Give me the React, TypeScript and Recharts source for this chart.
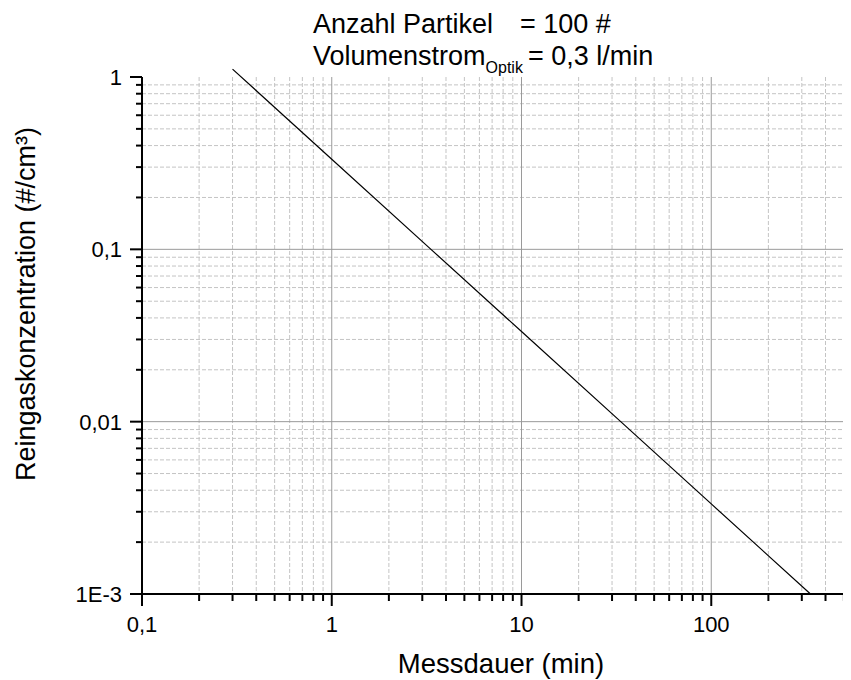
import { CartesianGrid, Line, LineChart, XAxis, YAxis } from "recharts";

// Messdauer (min) vs. Reingaskonzentration (#/cm³), 100 Partikel bei 0,3 l/min
const durations = [0.3, 1, 3.333, 10, 33.33, 100, 333.3];
const concentrations = [1.111, 0.3333, 0.1, 0.03333, 0.01, 0.003333, 0.001];

const xMajorTicks = [0.1, 1, 10, 100];
const xTickLabels = ["0,1", "1", "10", "100"];
const xMinorTicks = [
  0.2, 0.3, 0.4, 0.5, 0.6, 0.7, 0.8, 0.9,
  2, 3, 4, 5, 6, 7, 8, 9,
  20, 30, 40, 50, 60, 70, 80, 90,
  200, 300, 400, 500,
];

const yMajorTicks = [0.001, 0.01, 0.1, 1];
const yTickLabels = ["1E-3", "0,01", "0,1", "1"];
const yMinorTicks = [
  0.002, 0.003, 0.004, 0.005, 0.006, 0.007, 0.008, 0.009,
  0.02, 0.03, 0.04, 0.05, 0.06, 0.07, 0.08, 0.09,
  0.2, 0.3, 0.4, 0.5, 0.6, 0.7, 0.8, 0.9,
];

const data = durations.map((t, i) => ({ t, c: concentrations[i] }));

const font = "'Liberation Sans', Arial, Helvetica, sans-serif";

function labelFor(value: number, majors: number[], labels: string[]) {
  const idx = majors.findIndex((m) => Math.abs(m - value) / m < 1e-6);
  return idx >= 0 ? labels[idx] : null;
}

function XTick(props: any) {
  const { x, y, payload } = props;
  const label = labelFor(payload.value, xMajorTicks, xTickLabels);
  return (
    <g>
      <line x1={x} x2={x} y1={y} y2={y + (label ? 12 : 7)} stroke="#000" strokeWidth={2} />
      {label && (
        <text x={x} y={y + 38} textAnchor="middle" fontSize={22} fill="#000" fontFamily={font}>
          {label}
        </text>
      )}
    </g>
  );
}

function YTick(props: any) {
  const { x, y, payload } = props;
  const label = labelFor(payload.value, yMajorTicks, yTickLabels);
  return (
    <g>
      <line x1={x} x2={x - (label ? 12 : 6)} y1={y} y2={y} stroke="#000" strokeWidth={2} />
      {label && (
        <text x={x - 20} y={y + 8} textAnchor="end" fontSize={22} fill="#000" fontFamily={font}>
          {label}
        </text>
      )}
    </g>
  );
}

export default function App() {
  return (
    <div style={{ fontFamily: font }}>
      <style>{`.recharts-line, .recharts-line * { clip-path: none !important; }`}</style>
      <LineChart
        width={843}
        height={672}
        data={data}
        margin={{ top: 69, right: 0, bottom: 0, left: 64 }}
      >
        <CartesianGrid
          verticalValues={xMinorTicks}
          horizontalValues={yMinorTicks}
          stroke="#c4c4c4"
          strokeDasharray="4 2"
          syncWithTicks={false}
        />
        <CartesianGrid
          verticalValues={[1, 10, 100]}
          horizontalValues={[0.1, 0.01]}
          stroke="#9a9a9a"
          syncWithTicks={false}
        />
        <XAxis
          dataKey="t"
          type="number"
          scale="log"
          domain={[0.1, 545]}
          allowDataOverflow
          ticks={[...xMajorTicks, ...xMinorTicks].sort((a, b) => a - b)}
          interval={0}
          tickSize={0}
          tickMargin={0}
          tick={<XTick />}
          axisLine={{ stroke: "#000", strokeWidth: 2 }}
          height={86}
        />
        <YAxis
          type="number"
          scale="log"
          domain={[0.001, 1]}
          allowDataOverflow
          ticks={[...yMajorTicks, ...yMinorTicks].sort((a, b) => a - b)}
          interval={0}
          tickSize={0}
          tickMargin={0}
          tick={<YTick />}
          axisLine={{ stroke: "#000", strokeWidth: 2 }}
          width={70}
        />
        <Line
          dataKey="c"
          type="linear"
          stroke="#000"
          strokeWidth={1.2}
          dot={false}
          isAnimationActive={false}
        />
        <text x={305} y={25} fontSize={27} fill="#000" fontFamily={font}>
          Anzahl Partikel
        </text>
        <text x={512} y={25} fontSize={27} fill="#000" fontFamily={font}>
          = 100 #
        </text>
        <text x={305} y={57} fontSize={27} fill="#000" fontFamily={font}>
          Volumenstrom
          <tspan fontSize={16} dy={8}>Optik</tspan>
        </text>
        <text x={520} y={57} fontSize={27} fill="#000" fontFamily={font}>
          = 0,3 l/min
        </text>
        <text x={493} y={665} textAnchor="middle" fontSize={27.5} fill="#000" fontFamily={font}>
          Messdauer (min)
        </text>
        <text
          x={0}
          y={0}
          transform="translate(27 296) rotate(-90)"
          textAnchor="middle"
          fontSize={27}
          fill="#000"
          fontFamily={font}
        >
          Reingaskonzentration (#/cm³)
        </text>
      </LineChart>
    </div>
  );
}
